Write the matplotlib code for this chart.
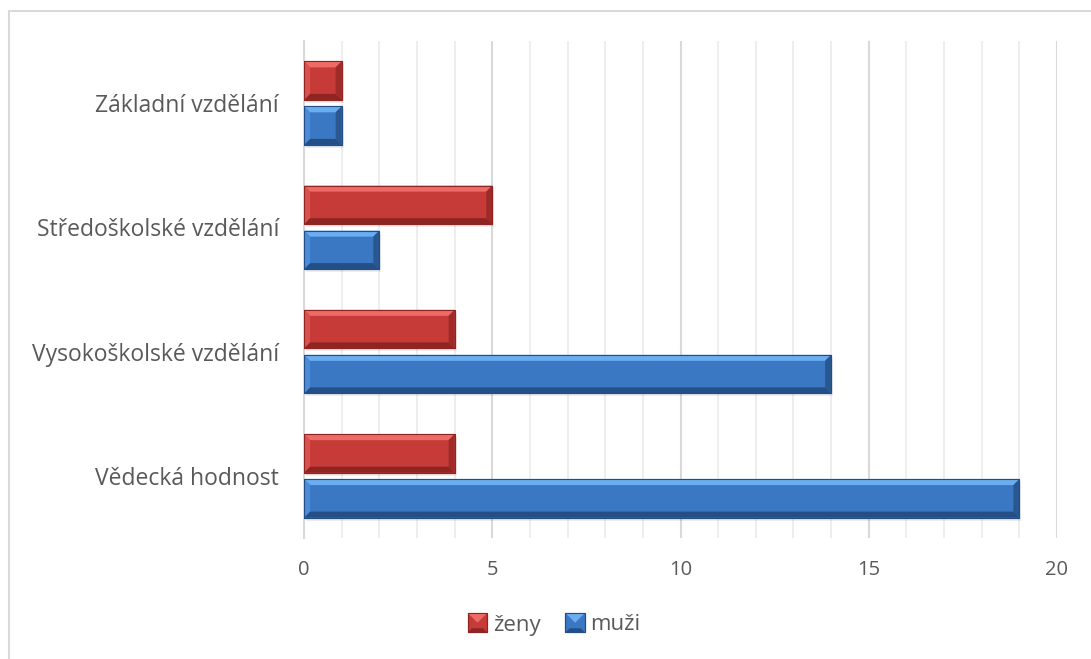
import matplotlib
matplotlib.use("Agg")
import matplotlib.pyplot as plt
from matplotlib.patches import Polygon, Rectangle
from matplotlib.legend_handler import HandlerBase
import numpy as np

categories = ["Vědecká hodnost", "Vysokoškolské vzdělání", "Středoškolské vzdělání", "Základní vzdělání"]
muzi = [19, 14, 2, 1]
zeny = [4, 4, 5, 1]
series_names = ["ženy", "muži"]
x_ticks = [0, 5, 10, 15, 20]

plt.rcParams['font.family'] = ['Open Sans', 'DejaVu Sans']
TXT = '#595959'

RED = dict(face='#C63B37', top='#EE6A66', bottom='#8E2522', left='#D9514D', right='#9E2B28', edge='#8E2522')
BLUE = dict(face='#3A78C4', top='#6AADF0', bottom='#234F86', left='#4C8BD8', right='#28588F', edge='#234F86')

W, H, DPI = 1091, 659, 100
fig = plt.figure(figsize=(W / DPI, H / DPI), dpi=DPI)
ax = fig.add_axes([304 / W, 1 - 538 / H, (1057 - 304) / W, (538 - 41) / H])

# chart border
fig.patches.append(Rectangle((9 / W, -0.1), 2, (H - 11) / H + 0.1, transform=fig.transFigure,
                             fill=False, edgecolor='#D9D9D9', linewidth=1.5))

ax.set_xlim(0, 20)
ax.set_ylim(-0.5, len(categories) - 0.5)

y = np.arange(len(categories))
h = 0.31
off = 0.181

# pixel -> data scale
px_x = 20 / (1057 - 304)
px_y = 4 / (538 - 41)
bev = 6
bx, by = bev * px_x, bev * px_y


def bevel_bar(x1, yc, style):
    x0 = 0.0
    y0, y1 = yc - h / 2, yc + h / 2
    # shadow
    ax.add_patch(Rectangle((x0 + 2 * px_x, y0 - 3 * px_y), x1, h, facecolor='#000000', alpha=0.07,
                           edgecolor='none', zorder=2))
    bars = ax.barh([yc], [x1], height=h, left=0, color=style['face'], edgecolor=style['edge'],
                   linewidth=0.8, zorder=3)
    bxx = min(bx, x1 / 2)
    ax.add_patch(Polygon([(x0, y1), (x1, y1), (x1 - bxx, y1 - by), (x0 + bxx, y1 - by)],
                         facecolor=style['top'], edgecolor='none', zorder=4))
    ax.add_patch(Polygon([(x0, y0), (x1, y0), (x1 - bxx, y0 + by), (x0 + bxx, y0 + by)],
                         facecolor=style['bottom'], edgecolor='none', zorder=4))
    ax.add_patch(Polygon([(x0, y0), (x0, y1), (x0 + bxx, y1 - by), (x0 + bxx, y0 + by)],
                         facecolor=style['left'], edgecolor='none', zorder=4))
    ax.add_patch(Polygon([(x1, y0), (x1, y1), (x1 - bxx, y1 - by), (x1 - bxx, y0 + by)],
                         facecolor=style['right'], edgecolor='none', zorder=4))
    ax.add_patch(Rectangle((x0, y0), x1, h, fill=False, edgecolor=style['edge'], linewidth=0.8, zorder=5))
    return bars


for i in range(len(categories)):
    bevel_bar(muzi[i], y[i] - off, BLUE)
    bevel_bar(zeny[i], y[i] + off, RED)

# grid
ax.set_xticks(x_ticks)
ax.set_xticks(np.arange(0, 21, 1), minor=True)
ax.grid(axis='x', which='minor', color='#EDEDED', linewidth=1.3, zorder=0)
ax.grid(axis='x', which='major', color='#D9D9D9', linewidth=1.5, zorder=0)
ax.set_axisbelow(True)
for s in ['top', 'right', 'bottom']:
    ax.spines[s].set_visible(False)
ax.spines['left'].set_color('#D9D9D9')
ax.spines['left'].set_linewidth(1.5)

ax.tick_params(axis='both', which='both', length=0)
ax.tick_params(axis='x', pad=16, labelsize=14.5, labelcolor=TXT)
ax.tick_params(axis='y', pad=18, labelsize=16.5, labelcolor=TXT)
ax.set_yticks(y)
ax.set_yticklabels(categories)


class BevelHandler(HandlerBase):
    def __init__(self, style):
        super().__init__()
        self.style = style

    def create_artists(self, legend, orig_handle, xdescent, ydescent, width, height, fontsize, trans):
        s = self.style
        size = 14
        x0 = width - size
        y0 = (height - size) / 2
        b = 3
        arts = [Rectangle((x0, y0), size, size, facecolor=s['face'], edgecolor=s['edge'], lw=0.8, transform=trans)]
        arts.append(Polygon([(x0, y0 + size), (x0 + size, y0 + size), (x0 + size / 2, y0 + size / 2)],
                            facecolor=s['top'], edgecolor='none', transform=trans))
        arts.append(Polygon([(x0, y0), (x0 + size, y0), (x0 + size - b, y0 + b), (x0 + b, y0 + b)],
                            facecolor=s['bottom'], edgecolor='none', transform=trans))
        arts.append(Rectangle((x0, y0), size, size, fill=False, edgecolor=s['edge'], lw=0.8, transform=trans))
        return arts


h_red = Rectangle((0, 0), 1, 1)
h_blue = Rectangle((0, 0), 1, 1)
leg = fig.legend([h_red, h_blue], series_names, loc='center', bbox_to_anchor=(555 / W, 1 - 625 / H),
                 ncol=2, frameon=False, fontsize=16, handlelength=0.8, handletextpad=0.25, columnspacing=1.2,
                 handler_map={h_red: BevelHandler(RED), h_blue: BevelHandler(BLUE)})
for t in leg.get_texts():
    t.set_color(TXT)

fig.savefig('out.png', dpi=DPI)
